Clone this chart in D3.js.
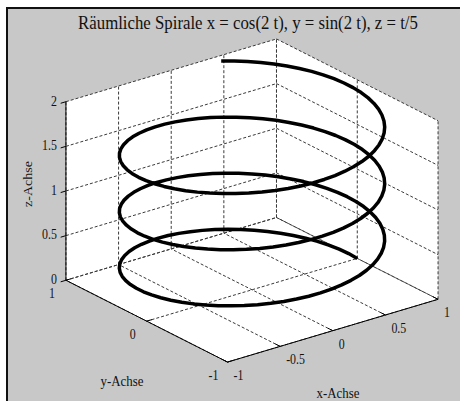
<!DOCTYPE html>
<html>
<head>
<meta charset="utf-8">
<script src="https://cdn.jsdelivr.net/npm/d3@7"></script>
<style>
  html, body { margin: 0; padding: 0; background: #fff; }
  svg { display: block; }
  text { font-family: "Liberation Serif", "Times New Roman", serif; fill: #111; }
</style>
</head>
<body>
<svg id="chart" width="460" height="401"></svg>
<script>
// Axis ticks and labels
const xTicks = [-1, -0.5, 0, 0.5, 1];
const xTickLabels = ["-1", "-0.5", "0", "0.5", "1"];
const yTicks = [-1, 0, 1];
const yTickLabels = ["-1", "0", "1"];
const zTicks = [0, 0.5, 1, 1.5, 2];
const zTickLabels = ["0", "0.5", "1", "1.5", "2"];

// Curve parameter t on [0, 10]; the helix follows the title's equations
const tStart = 0, tEnd = 10, tStep = 0.05;
const helixX = t => Math.cos(2 * t);
const helixY = t => Math.sin(2 * t);
const helixZ = t => t / 5;

const titleText = "Räumliche Spirale x = cos(2 t), y = sin(2 t), z = t/5";
const xLabel = "x-Achse", yLabel = "y-Achse", zLabel = "z-Achse";

// View: azimuth / elevation in degrees
const azDeg = -37.5, elDeg = 30;

const svg = d3.select("#chart");

// Figure background
svg.append("rect").attr("x", 6).attr("y", 7).attr("width", 454).attr("height", 394)
  .attr("fill", "#c8c8c8");
svg.append("path").attr("d", "M7,401V8H460").attr("fill", "none")
  .attr("stroke", "#111").attr("stroke-width", 2);

// Data -> normalized box coordinates
const xN = d3.scaleLinear().domain([-1, 1]).range([-1, 1]);
const yN = d3.scaleLinear().domain([-1, 1]).range([-1, 1]);
const zN = d3.scaleLinear().domain([0, 2]).range([-1, 1]);

// Projected plane -> pixels
const sx = d3.scaleLinear().domain([-1, 1]).range([252 - 132.7, 252 + 132.7]);
const sy = d3.scaleLinear().domain([-1, 1]).range([200.5 + 103.1, 200.5 - 103.1]);

const az = azDeg * Math.PI / 180, el = elDeg * Math.PI / 180;
function proj(x, y, z) {
  const u = xN(x), v = yN(y), w = zN(z);
  const px = Math.cos(az) * u + Math.sin(az) * v;
  const depth = -Math.sin(az) * u + Math.cos(az) * v;
  const py = depth * Math.sin(el) + w * Math.cos(el);
  return [sx(px), sy(py)];
}

const xMin = d3.min(xTicks), xMax = d3.max(xTicks);
const yMin = d3.min(yTicks), yMax = d3.max(yTicks);
const zMin = d3.min(zTicks), zMax = d3.max(zTicks);

const line = d3.line();

// White back walls and floor
const box = [
  proj(xMin, yMax, zMin), proj(xMin, yMax, zMax), proj(xMax, yMax, zMax),
  proj(xMax, yMin, zMax), proj(xMax, yMin, zMin), proj(xMin, yMin, zMin)
];
svg.append("path").attr("d", line(box) + "Z").attr("fill", "#fff");

// Dashed grid on floor (z = zMin), back wall y = yMax and side wall x = xMax
const gridSegs = [];
xTicks.forEach(x => {
  gridSegs.push([proj(x, yMin, zMin), proj(x, yMax, zMin)]);
  gridSegs.push([proj(x, yMax, zMin), proj(x, yMax, zMax)]);
});
yTicks.forEach(y => {
  gridSegs.push([proj(xMin, y, zMin), proj(xMax, y, zMin)]);
  gridSegs.push([proj(xMax, y, zMin), proj(xMax, y, zMax)]);
});
zTicks.forEach(z => {
  gridSegs.push([proj(xMin, yMax, z), proj(xMax, yMax, z)]);
  gridSegs.push([proj(xMax, yMax, z), proj(xMax, yMin, z)]);
});
svg.append("g").selectAll("path").data(gridSegs).join("path")
  .attr("d", d => line(d))
  .attr("fill", "none").attr("stroke", "#3a3a3a").attr("stroke-width", 1)
  .attr("stroke-dasharray", "3,2");

// Solid axis lines
const axisSegs = [
  [proj(xMin, yMax, zMin), proj(xMin, yMax, zMax)],   // z axis
  [proj(xMin, yMax, zMin), proj(xMin, yMin, zMin)],   // y axis
  [proj(xMin, yMin, zMin), proj(xMax, yMin, zMin)]    // x axis
];
svg.append("g").selectAll("path").data(axisSegs).join("path")
  .attr("d", d => line(d)).attr("fill", "none")
  .attr("stroke", "#000").attr("stroke-width", 1);

// Tick marks
const tickSegs = [];
zTicks.forEach(z => tickSegs.push([proj(xMin, yMax, z), proj(xMin - 0.05, yMax, z)]));
yTicks.forEach(y => tickSegs.push([proj(xMin, y, zMin), proj(xMin + 0.05, y, zMin)]));
xTicks.forEach(x => tickSegs.push([proj(x, yMin, zMin), proj(x, yMin + 0.06, zMin)]));
svg.append("g").selectAll("path").data(tickSegs).join("path")
  .attr("d", d => line(d)).attr("fill", "none")
  .attr("stroke", "#000").attr("stroke-width", 1);

// Helix
const tVals = d3.range(tStart, tEnd + tStep / 2, tStep);
const helixPts = tVals.map(t => proj(helixX(t), helixY(t), helixZ(t)));
svg.append("path").attr("d", line.curve(d3.curveLinear)(helixPts))
  .attr("fill", "none").attr("stroke", "#000").attr("stroke-width", 3.5)
  .attr("stroke-linejoin", "round").attr("stroke-linecap", "butt");

// Text helper: horizontally condensed serif labels (squeeze applied in screen space)
function label(x, y, str, size, anchor, squeeze, rotate, baseline) {
  const g = svg.append("g")
    .attr("transform", `translate(${x},${y}) scale(${squeeze},1)` + (rotate ? ` rotate(${rotate})` : ""));
  return g.append("text").attr("text-anchor", anchor)
    .attr("dominant-baseline", baseline || "central")
    .attr("font-size", size).text(str);
}

// Tick labels
zTicks.forEach((z, i) => {
  const p = proj(xMin, yMax, z);
  label(p[0] - 9, p[1] - 1, zTickLabels[i], 14, "end", 0.85);
});
yTicks.forEach((y, i) => {
  const p = proj(xMin, y, zMin);
  label(p[0] - 14, p[1] + 13, yTickLabels[i], 14, "middle", 0.85);
});
xTicks.forEach((x, i) => {
  const p = proj(x, yMin, zMin);
  label(p[0] + 6, p[1] + 13, xTickLabels[i], 14, "start", 0.85);
});

// Axis titles
label(122, 381, yLabel, 14, "middle", 0.92);
label(338, 393, xLabel, 14, "middle", 0.92);
label(28, 184, zLabel, 14, "middle", 0.9, -90);

// Chart title, condensed to a 340 px line width
const titleNode = label(248, 29, titleText, 19, "middle", 1, 0, "alphabetic");
const natural = titleNode.node().getComputedTextLength();
d3.select(titleNode.node().parentNode)
  .attr("transform", `translate(248,29) scale(${340 / natural},1)`);
</script>
</body>
</html>
